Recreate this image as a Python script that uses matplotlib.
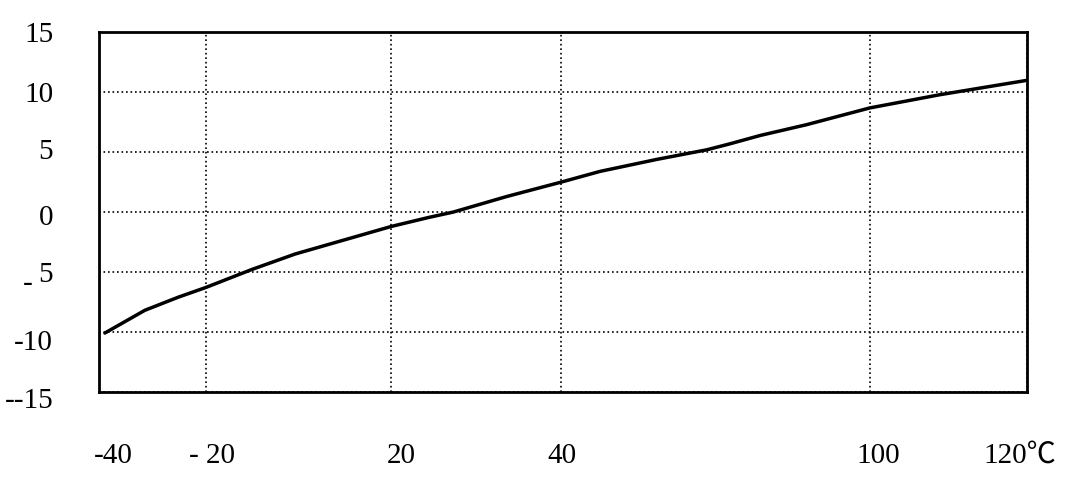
#!/usr/bin/env python3
"""Output deviation vs temperature curve (-40 .. 120 ℃).

The temperature axis of the original drawing is not linear, so it is
drawn on a piecewise-linear function scale through the labelled ticks.
"""

import numpy as np
import matplotlib

matplotlib.use("Agg")
import matplotlib.pyplot as plt
from matplotlib.transforms import ScaledTranslation

# curve: temperature (℃) -> deviation
TEMPS = [-38.9, -31.4, -25.1, -20.0, -10.1, -0.7, 10.1, 20.0, 24.4, 27.3,
         33.6, 40.0, 47.6, 58.6, 68.3, 72.8, 78.7, 87.7, 100.0, 108.9, 120.0]
VALUES = [-10.1, -8.2, -7.1, -6.3, -4.8, -3.5, -2.3, -1.2, -0.45, 0.0,
          1.3, 2.5, 3.4, 4.4, 5.2, 5.7, 6.4, 7.3, 8.7, 9.8, 11.0]

X_TICKS = [-40, -20, 20, 40, 100, 120]
X_LABELS = ["-40", "- 20", "20", "40", "100", "120℃"]
Y_TICKS = [-15, -10, -5, 0, 5, 10, 15]
Y_LABELS = ["--15", "-10", "-5", "0", "5", "10", "15"]

# where each x tick sits across the axes (fraction of width)
X_FRAC = [0.0, 0.115, 0.315, 0.498, 0.831, 1.0]

FONT = ["Liberation Serif", "Noto Sans CJK SC", "DejaVu Serif"]
FS = 21


def _fwd(t):
    return np.interp(t, X_TICKS, X_FRAC)


def _inv(f):
    return np.interp(f, X_FRAC, X_TICKS)


def shift(fig, dx, dy):
    return ScaledTranslation(dx / fig.dpi, dy / fig.dpi, fig.dpi_scale_trans)


def main() -> None:
    plt.rcParams["font.family"] = FONT
    fig = plt.figure(figsize=(10.8, 4.93), dpi=100)
    ax = fig.add_axes([0.0917, 0.2055, 0.8589, 0.7286])

    ax.set_xscale("function", functions=(_fwd, _inv))
    ax.plot(TEMPS, VALUES, color="black", lw=2.5, solid_capstyle="round",
            solid_joinstyle="round")

    ax.set_xlim(X_TICKS[0], X_TICKS[-1])
    ax.set_ylim(Y_TICKS[0], Y_TICKS[-1])

    ax.set_xticks(X_TICKS)
    ax.set_xticklabels(X_LABELS)
    ax.set_yticks(Y_TICKS)
    # the "-5" label has its dash set low and apart, drawn separately below
    ax.set_yticklabels([s[1:] if s == "-5" else s for s in Y_LABELS])
    ax.minorticks_off()

    ax.tick_params(axis="both", length=0, labelsize=FS)
    ax.tick_params(axis="x", pad=37)
    ax.tick_params(axis="y", pad=33)

    # small nudges so labels sit where the original put them (pixels)
    x_nudge = [14, 6, 10, 1, 8, -7]
    for lab, dx in zip(ax.get_xticklabels(), x_nudge):
        lab.set_transform(lab.get_transform() + shift(fig, dx, 0))
    y_nudge = [-6, -8, 0, -3, 3, 0, 0]
    for lab, dy in zip(ax.get_yticklabels(), y_nudge):
        lab.set_transform(lab.get_transform() + shift(fig, 0, dy))

    ax.text(-0.082, -5, "-", fontsize=FS, ha="left", va="baseline",
            transform=ax.get_yaxis_transform() + shift(fig, 0, -19))

    ax.grid(True, color="black", linestyle=(0, (1, 1.7)), lw=1.2)
    for sp in ax.spines.values():
        sp.set_linewidth(2.0)

    fig.savefig("out.png", dpi=100)
    plt.close(fig)


if __name__ == "__main__":
    main()
